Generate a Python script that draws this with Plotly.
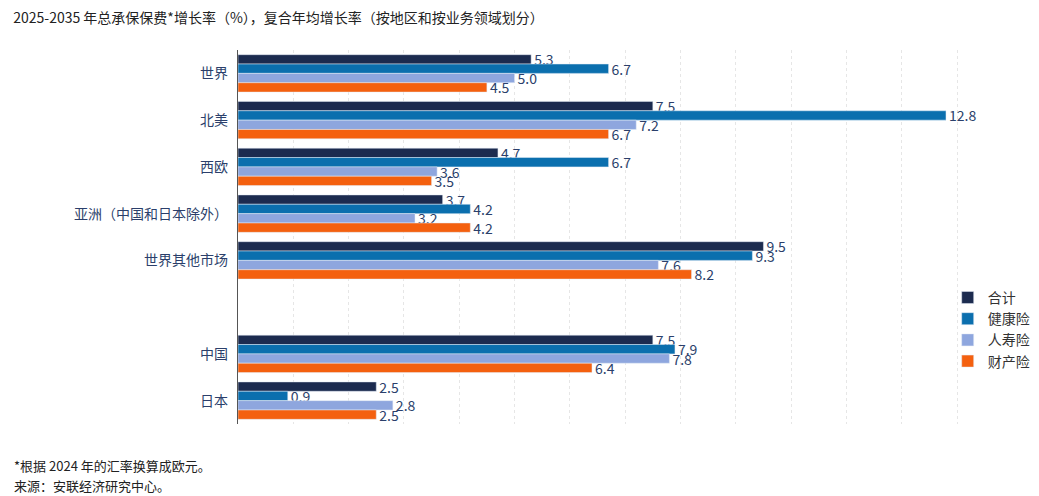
import plotly.graph_objects as go

cats = ['世界', '北美', '西欧', '亚洲（中国和日本除外）', '世界其他市场', ' ', '中国', '日本']
data = {
    '合计':   [5.3, 7.5, 4.7, 3.7, 9.5, None, 7.5, 2.5],
    '健康险': [6.7, 12.8, 6.7, 4.2, 9.3, None, 7.9, 0.9],
    '人寿险': [5.0, 7.2, 3.6, 3.2, 7.6, None, 7.8, 2.8],
    '财产险': [4.5, 6.7, 3.5, 4.2, 8.2, None, 6.4, 2.5],
}
colors = {'合计': '#1c2b4f', '健康险': '#0b6fae', '人寿险': '#8ea6de', '财产险': '#f4600f'}

fig = go.Figure()
for name, vals in data.items():
    fig.add_trace(go.Bar(
        y=cats, x=vals, name=name, orientation='h',
        marker_color=colors[name],
        text=[f'{v:.1f}' if v is not None else '' for v in vals],
        textposition='outside', cliponaxis=False, constraintext='none',
        textfont=dict(size=14, color='#2b3f6b'),
    ))

fig.update_layout(
    width=1039, height=496,
    barmode='group', bargap=0.2, bargroupgap=0,
    plot_bgcolor='white', paper_bgcolor='white',
    font=dict(family='Noto Sans CJK SC', color='#2b3f6b'),
    margin=dict(l=230, r=50, t=42, b=80),
    showlegend=True,
    legend=dict(x=0.94, y=0.38, xanchor='left', yanchor='top',
                font=dict(size=14, color='#333'), tracegroupgap=14,
                bgcolor='rgba(255,255,255,0)'),
    title=dict(text='2025-2035 年总承保保费*增长率（%），复合年均增长率（按地区和按业务领域划分）',
               x=0.005, y=0.99, xanchor='left', yanchor='top',
               font=dict(size=14, color='#222', family='Noto Sans CJK SC')),
)
fig.update_xaxes(range=[0, 13.65], showticklabels=False, showgrid=True,
                 gridcolor='#e6e6e6', griddash='dot', dtick=1, zeroline=False)
fig.update_yaxes(autorange='reversed', showline=True, linecolor='#555', linewidth=1,
                 ticks='', tickfont=dict(size=14, color='#2b3f6b'), ticksuffix='  ')

for i, line in enumerate(['*根据 2024 年的汇率换算成欧元。', '来源：安联经济研究中心。']):
    fig.add_annotation(text=line, xref='paper', yref='paper', x=-0.3, y=-0.08 - i * 0.055,
                       xanchor='left', yanchor='top', showarrow=False, align='left',
                       font=dict(size=13, color='#222'))

fig.write_html('out.html')
